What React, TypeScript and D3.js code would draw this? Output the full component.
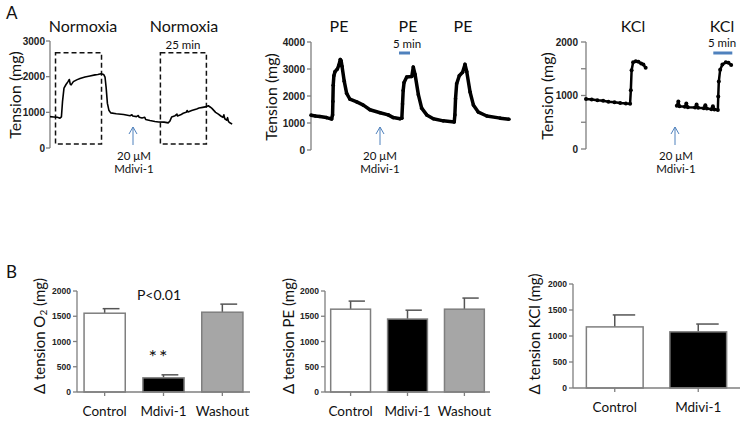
import React from 'react';
import * as d3 from 'd3';

// ---- panel A traces: [time (min), tension (mg)] ----
const normoxiaTrace: [number, number][] = [
  [0, 880], [2, 870], [4, 860], [5.4, 835], [6.2, 870], [6.8, 1300], [7.6, 1680], [8.7, 1780],
  [9.8, 1860], [10.5, 1920], [11.0, 1790], [11.5, 1770], [12.7, 1860], [14.5, 1910], [16.3, 1950],
  [19, 1990], [21.7, 2020], [24.5, 2050], [26, 2060], [27.7, 2080], [29.2, 2060], [29.9, 1990],
  [30.5, 1700], [31.2, 1250], [32, 1060], [33, 985], [36, 960], [40, 940], [43.5, 905], [44.5, 930],
  [45, 895], [47, 880], [48, 910], [48.5, 860], [50, 840], [51.5, 860], [52, 800], [54.3, 770],
  [57, 745], [59, 730], [62, 725], [64.3, 705], [65.2, 760], [66.1, 870], [68, 905], [69, 950],
  [69.3, 900], [71, 930], [72.4, 975], [74, 1000], [74.5, 1050], [75, 1010], [77, 1050], [79.7, 1095],
  [81, 1120], [83, 1140], [85, 1160], [86, 1185], [87, 1150], [88, 1110], [90, 1000], [91.5, 950],
  [93, 890], [94, 860], [94.5, 930], [95, 820], [96, 780], [96.5, 850], [97, 740], [98, 700], [99, 670],
];

const peTrace: [number, number][] = [
  [0, 1290], [2, 1260], [4, 1240], [7, 1200], [9.4, 1150], [9.8, 1300], [9.95, 1800], [10.1, 2400],
  [10.4, 2750], [10.9, 2900], [12, 3000], [12.7, 3150], [13.3, 3350], [13.7, 3300], [14.1, 3100],
  [15.1, 2550], [16.2, 2100], [17.7, 1880], [20.8, 1780], [23.8, 1660], [26.8, 1490], [31.4, 1380],
  [35.1, 1300], [37.4, 1200], [40.5, 1160], [41.3, 1180], [41.6, 1700], [41.9, 2200], [42.3, 2500],
  [43.5, 2700], [45.8, 2720], [46.5, 3070], [47.3, 2800], [48.8, 2050], [50.3, 1550], [52.6, 1300],
  [55.6, 1160], [60.1, 1080], [65.1, 1040], [65.4, 1300], [65.7, 1900], [66.2, 2450], [67.4, 2750],
  [68.9, 2880], [70, 3170], [70.8, 2900], [72.3, 2150], [73.8, 1670], [76.1, 1400], [79.9, 1260],
  [86, 1180], [90, 1140],
];

const kclTraceBefore: [number, number][] = [
  [0, 935], [1.5, 925], [3, 910], [4.5, 900], [5.9, 885], [7.5, 875], [9, 860], [10.5, 850],
  [11.6, 845], [11.8, 1100], [12, 1470], [12.4, 1620], [13.1, 1640], [13.8, 1630], [14.5, 1600],
  [15.1, 1580], [15.7, 1520],
];

const kclTraceAfter: [number, number][] = [
  [23.9, 810], [24.3, 890], [24.6, 800], [26, 790], [26.4, 850], [26.8, 780], [28.7, 775],
  [29.1, 830], [29.5, 770], [31, 760], [31.4, 820], [31.8, 755], [33, 745], [33.4, 800], [33.8, 740],
  [34.7, 730], [34.8, 980], [34.95, 1260], [35.3, 1480], [35.9, 1580], [36.8, 1620], [37.5, 1610],
  [38.2, 1570],
];

const normoxiaTicks = [0, 1000, 2000, 3000];
const peTicks = [0, 1000, 2000, 3000, 4000];
const kclTicks = [0, 500, 1000, 1500, 2000];
const kclTickLabels = [0, 1000, 2000];

// ---- panel B bars ----
const o2Groups = ['Control', 'Mdivi-1', 'Washout'];
const o2Mean = [1560, 280, 1580];
const o2Sem = [90, 60, 160];

const peGroups = ['Control', 'Mdivi-1', 'Washout'];
const peMean = [1640, 1445, 1640];
const peSem = [160, 175, 220];

const kclGroups = ['Control', 'Mdivi-1'];
const kclMean = [1175, 1080];
const kclSem = [230, 150];

const barTicks = [0, 500, 1000, 1500, 2000];
const barFills = ['#ffffff', '#000000', '#a6a6a6'];

const AXIS = '#7f7f7f';
const BLUE = '#4f81bd';
const LABEL_FONT = 'Lato, "Open Sans", sans-serif';
const TICK_FONT = '"Liberation Sans", Arial, sans-serif';

function YAxis({ x, y, ticks, labels, fontSize, tickLen = 4, gap = 2 }: any) {
  const [y0, y1] = y.range();
  return (
    <g>
      <line x1={x} x2={x} y1={y0} y2={y1} stroke={AXIS} strokeWidth={1.3} />
      {ticks.map((t: number) => (
        <g key={t}>
          <line x1={x - tickLen} x2={x} y1={y(t)} y2={y(t)} stroke={AXIS} strokeWidth={1.3} />
          {(labels || ticks).includes(t) && (
            <text x={x - tickLen - gap} y={y(t)} textAnchor="end" dominantBaseline="central"
              fontFamily={TICK_FONT} fontWeight="bold" fontSize={fontSize} fill="#222">{t}</text>
          )}
        </g>
      ))}
    </g>
  );
}

function VLabel({ x, y, children, size = 15 }: any) {
  return (
    <text transform={`translate(${x},${y}) rotate(-90)`} textAnchor="middle" dominantBaseline="central"
      fontFamily={LABEL_FONT} fontSize={size} fill="#111">{children}</text>
  );
}

function Arrow({ x, y1, y2 }: any) {
  return (
    <g stroke={BLUE} strokeWidth={1} fill="none">
      <line x1={x} x2={x} y1={y1} y2={y2} />
      <polyline points={`${x - 4},${y1 + 7} ${x},${y1} ${x + 4},${y1 + 7}`} />
    </g>
  );
}

function Mdivi({ x, y }: any) {
  return (
    <g fontFamily={LABEL_FONT} fontSize={11.5} textAnchor="middle" fill="#111">
      <text x={x} y={y}>20 μM</text>
      <text x={x} y={y + 13}>Mdivi-1</text>
    </g>
  );
}

function Trace({ data, x, y, width, dots }: any) {
  const line = d3.line<[number, number]>().x(d => x(d[0])).y(d => y(d[1]));
  return (
    <g>
      <path d={line(data) || ''} fill="none" stroke="#000" strokeWidth={width} strokeLinejoin="round" />
      {dots && data.map((d: [number, number], i: number) => (
        <circle key={i} cx={x(d[0])} cy={y(d[1])} r={dots} fill="#000" />
      ))}
    </g>
  );
}

function BarPanel({ groups, mean, sem, x0, x1, yTop, yBottom, paddingInner, paddingOuter, label }: any) {
  const y = d3.scaleLinear().domain([0, 2000]).range([yBottom, yTop]);
  const xb = d3.scaleBand<string>().domain(groups).range([x0, x1])
    .paddingInner(paddingInner).paddingOuter(paddingOuter);
  const bw = xb.bandwidth();
  return (
    <g>
      {groups.map((g: string, i: number) => {
        const bx = xb(g)!;
        const cx = bx + bw / 2;
        return (
          <g key={g}>
            <line x1={cx} x2={cx} y1={y(mean[i])} y2={y(mean[i] + sem[i])} stroke="#555" strokeWidth={1.5} />
            <line x1={cx - 2} x2={cx + bw * 0.36} y1={y(mean[i] + sem[i])} y2={y(mean[i] + sem[i])}
              stroke="#555" strokeWidth={1.5} />
            <rect x={bx} y={y(mean[i])} width={bw} height={y(0) - y(mean[i])}
              fill={barFills[i]} stroke={AXIS} strokeWidth={1.5} />
            <line x1={cx} x2={cx} y1={y(0)} y2={y(0) + 4} stroke={AXIS} strokeWidth={1.3} />
            <text x={cx} y={y(0) + 24} textAnchor="middle" fontFamily={LABEL_FONT} fontSize={13.5} fill="#111">{g}</text>
          </g>
        );
      })}
      <line x1={x0} x2={x1} y1={y(0)} y2={y(0)} stroke={AXIS} strokeWidth={1.3} />
      <YAxis x={x0} y={y} ticks={barTicks} fontSize={8.5} tickLen={4} gap={2} />
      {label}
    </g>
  );
}

export default function App() {
  // A1 normoxia
  const xA1 = d3.scaleLinear().domain([0, 100]).range([50, 234]);
  const yA1 = d3.scaleLinear().domain([0, 3000]).range([148, 41]);
  // A2 PE
  const xA2 = d3.scaleLinear().domain([0, 90]).range([311, 509]);
  const yA2 = d3.scaleLinear().domain([0, 4000]).range([150, 42]);
  // A3 KCl
  const xA3 = d3.scaleLinear().domain([0, 40]).range([586, 738]);
  const yA3 = d3.scaleLinear().domain([0, 2000]).range([149, 42]);

  const boxes = [[3, 28], [60, 85]];

  return (
    <svg width={746} height={423} style={{ position: 'absolute', left: 0, top: 0, background: '#fff' }}>
      <rect width={746} height={423} fill="#fff" />
      <text x={6} y={19} fontFamily={LABEL_FONT} fontSize={17} fill="#111">A</text>
      <text x={6} y={278} fontFamily={LABEL_FONT} fontSize={17} fill="#111">B</text>

      {/* A1 */}
      <g fontFamily={LABEL_FONT} fontSize={16} textAnchor="middle" fill="#111">
        <text x={83} y={32}>Normoxia</text>
        <text x={184} y={32}>Normoxia</text>
      </g>
      <text x={183} y={49} textAnchor="middle" fontFamily={LABEL_FONT} fontSize={11.5} fill="#111">25 min</text>
      {boxes.map((b, i) => (
        <rect key={i} x={xA1(b[0])} y={yA1(2670)} width={xA1(b[1]) - xA1(b[0])} height={yA1(110) - yA1(2670)}
          fill="none" stroke="#111" strokeWidth={1.5} strokeDasharray="5,3" />
      ))}
      <YAxis x={50} y={yA1} ticks={normoxiaTicks} fontSize={10} tickLen={4} gap={1} />
      <Trace data={normoxiaTrace} x={xA1} y={yA1} width={1.6} />
      <VLabel x={14} y={95} size={16}>Tension (mg)</VLabel>
      <Arrow x={133} y1={127} y2={145} />
      <Mdivi x={134} y={160} />

      {/* A2 */}
      <g fontFamily={LABEL_FONT} fontSize={16} textAnchor="middle" fill="#111">
        <text x={339} y={32}>PE</text>
        <text x={408} y={32}>PE</text>
        <text x={463} y={32}>PE</text>
      </g>
      <text x={407} y={48} textAnchor="middle" fontFamily={LABEL_FONT} fontSize={11.5} fill="#111">5 min</text>
      <line x1={xA2(40)} x2={xA2(45)} y1={53} y2={53} stroke={BLUE} strokeWidth={3} />
      <YAxis x={311} y={yA2} ticks={peTicks} fontSize={10} tickLen={4} gap={2} />
      <Trace data={peTrace} x={xA2} y={yA2} width={3.5} dots={1.8} />
      <VLabel x={270} y={97} size={16}>Tension (mg)</VLabel>
      <Arrow x={380} y1={127} y2={145} />
      <Mdivi x={380} y={160} />

      {/* A3 */}
      <g fontFamily={LABEL_FONT} fontSize={16} textAnchor="middle" fill="#111">
        <text x={633} y={32}>KCl</text>
        <text x={722} y={32}>KCl</text>
      </g>
      <text x={722} y={47} textAnchor="middle" fontFamily={LABEL_FONT} fontSize={11.5} fill="#111">5 min</text>
      <line x1={xA3(33.5)} x2={xA3(38.5)} y1={53} y2={53} stroke={BLUE} strokeWidth={3} />
      <YAxis x={586} y={yA3} ticks={kclTicks} labels={kclTickLabels} fontSize={10} tickLen={5} gap={3} />
      <Trace data={kclTraceBefore} x={xA3} y={yA3} width={2.5} dots={2} />
      <Trace data={kclTraceAfter} x={xA3} y={yA3} width={2.5} dots={2} />
      <VLabel x={546} y={96} size={16}>Tension (mg)</VLabel>
      <Arrow x={675} y1={127} y2={145} />
      <Mdivi x={676} y={160} />

      {/* B1 */}
      <BarPanel groups={o2Groups} mean={o2Mean} sem={o2Sem} x0={77} x1={250} yTop={291} yBottom={392}
        paddingInner={0.3} paddingOuter={0.12}
        label={<VLabel x={39} y={336} size={15}>
          <tspan>Δ tension O</tspan><tspan fontSize={10} dy={4}>2</tspan><tspan dy={-4}> (mg)</tspan>
        </VLabel>} />
      <text x={159} y={300} textAnchor="middle" fontFamily={LABEL_FONT} fontSize={14} fill="#111">P&lt;0.01</text>
      <text x={159} y={364} textAnchor="middle" fontFamily={LABEL_FONT} fontSize={20} letterSpacing={2} fill="#111">**</text>

      {/* B2 */}
      <BarPanel groups={peGroups} mean={peMean} sem={peSem} x0={325} x1={490} yTop={291} yBottom={392}
        paddingInner={0.3} paddingOuter={0.1}
        label={<VLabel x={288} y={336} size={15}>Δ tension PE (mg)</VLabel>} />

      {/* B3 */}
      <BarPanel groups={kclGroups} mean={kclMean} sem={kclSem} x0={573} x1={740} yTop={284} yBottom={388}
        paddingInner={0.32} paddingOuter={0.16}
        label={<VLabel x={534} y={334} size={15}>Δ tension KCl (mg)</VLabel>} />
    </svg>
  );
}
